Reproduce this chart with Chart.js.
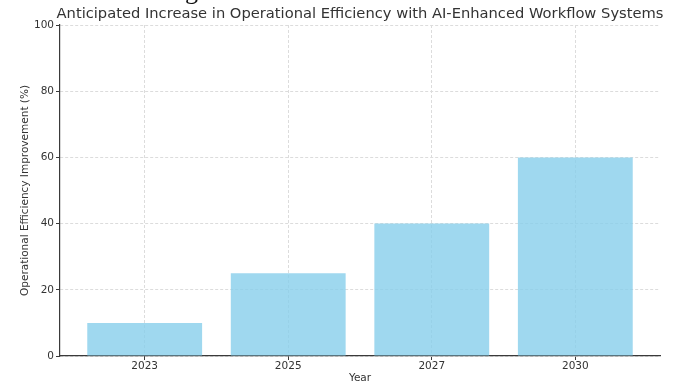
<!DOCTYPE html>
<html>
<head>
<meta charset="utf-8">
<script src="https://cdn.jsdelivr.net/npm/chart.js@4.4.1/dist/chart.umd.min.js"></script>
<style>
  html, body { margin: 0; padding: 0; background: #fff; }
  #wrap { width: 679px; height: 385px; }
</style>
</head>
<body>
<div id="wrap"><canvas id="chart"></canvas></div>
<script>
const years = ['2023', '2025', '2027', '2030'];
const improvement = [10, 25, 40, 60];
const yTicks = [0, 20, 40, 60, 80, 100];
const chartTitle = 'Anticipated Increase in Operational Efficiency with AI-Enhanced Workflow Systems';

const font = 'DejaVu Sans';
const textColor = '#333333';
const spineColor = '#3a3a3a';
const gridColor = '#dcdcdc';

// bars sit at integer positions on a linear axis so the side margins stay matplotlib-like
const points = improvement.map((v, i) => ({ x: i, y: v }));

// title centred over the plot area, plus the descender of the heading above it
const headings = {
    id: 'headings',
    afterDraw(chart) {
        const { ctx, chartArea } = chart;
        ctx.save();
        ctx.font = '14.7px "DejaVu Sans"';
        ctx.fillStyle = textColor;
        ctx.textAlign = 'center';
        ctx.textBaseline = 'middle';
        ctx.fillText(chartTitle, (chartArea.left + chartArea.right) / 2, 14);

        ctx.font = '26px "Liberation Serif"';
        ctx.fillStyle = '#111';
        ctx.textAlign = 'left';
        ctx.textBaseline = 'alphabetic';
        ctx.fillText('g', 185, -1.5);
        ctx.restore();
    }
};

const axisGrid = {
    color: gridColor,
    tickColor: spineColor,
    tickBorderDash: [],
    tickLength: 4,
    offset: false
};

new Chart(document.getElementById('chart'), {
    type: 'bar',
    data: {
        datasets: [{
            data: points,
            backgroundColor: 'rgba(135, 206, 235, 0.8)',
            borderWidth: 0,
            categoryPercentage: 1,
            barPercentage: 0.8
        }]
    },
    options: {
        responsive: true,
        maintainAspectRatio: false,
        animation: false,
        layout: { padding: { top: 25, right: 19, bottom: 0, left: 0 } },
        plugins: {
            legend: { display: false },
            tooltip: { enabled: false }
        },
        scales: {
            x: {
                type: 'linear',
                min: -0.59,
                max: 3.59,
                offset: false,
                afterBuildTicks: scale => { scale.ticks = years.map((_, i) => ({ value: i })); },
                afterFit: scale => { scale.height = 29; },
                ticks: {
                    callback: v => years[v],
                    color: textColor,
                    font: { family: font, size: 10.5 },
                    padding: 0,
                    maxRotation: 0
                },
                grid: axisGrid,
                border: { display: true, color: spineColor, width: 1.2, dash: [3, 2] },
                title: {
                    display: true,
                    text: 'Year',
                    color: textColor,
                    font: { family: font, size: 10.5 },
                    padding: { top: 0, bottom: 0 }
                }
            },
            y: {
                min: 0,
                max: 100,
                afterBuildTicks: scale => { scale.ticks = yTicks.map(v => ({ value: v })); },
                afterFit: scale => { scale.width = 60; },
                ticks: {
                    color: textColor,
                    font: { family: font, size: 10.5 },
                    padding: 2
                },
                grid: axisGrid,
                border: { display: true, color: spineColor, width: 1.2, dash: [3, 2] },
                title: {
                    display: true,
                    text: 'Operational Efficiency Improvement (%)',
                    color: textColor,
                    font: { family: font, size: 10.5 },
                    padding: { top: 19, bottom: 0 }
                }
            }
        }
    },
    plugins: [headings]
});
</script>
</body>
</html>
